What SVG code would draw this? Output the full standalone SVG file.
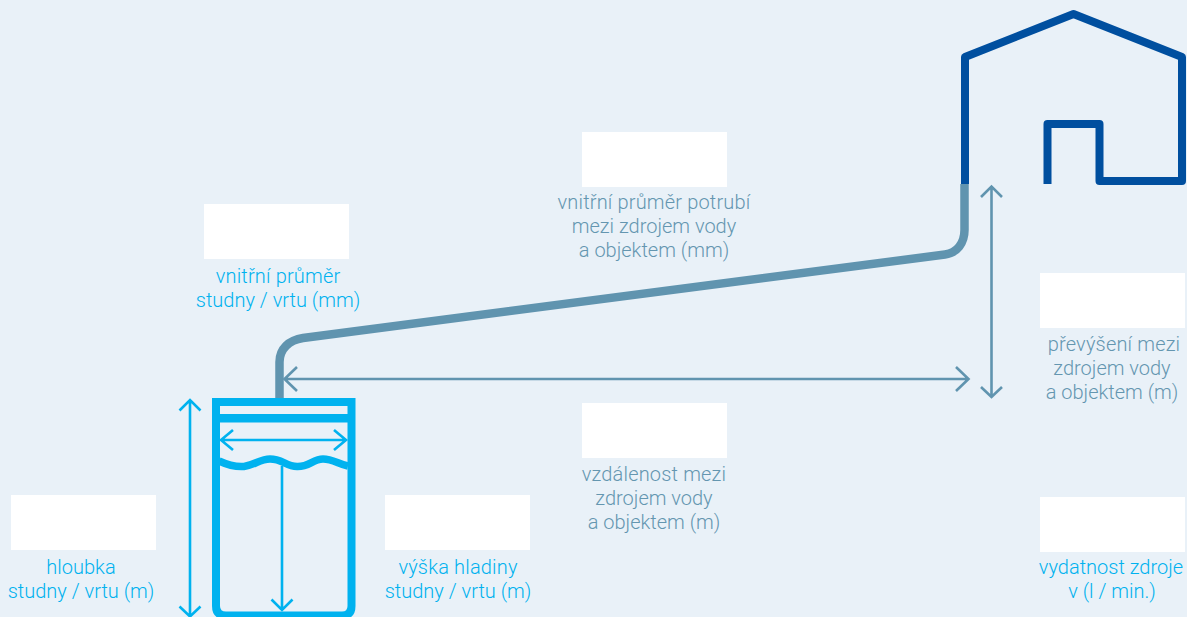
<svg xmlns="http://www.w3.org/2000/svg" width="1187" height="617" viewBox="0 0 1187 617">
<style>
.bg{fill:#e9f1f8}
.box{fill:#fff}
text{font-family:Roboto,"Liberation Sans",sans-serif;font-weight:300;font-size:20px;text-anchor:middle}
.c{fill:#00b2ef}
.g{fill:#6496b0}
.w{letter-spacing:.17px}
.sc{fill:none;stroke:#00b2ef}
.sg{fill:none;stroke:#6094af}
.sh{fill:none;stroke:#004f9f;stroke-width:8;stroke-linejoin:round}
.a{stroke-width:2.6}
</style>
<rect class="bg" width="1187" height="617"/>
<g id="connectors">
<path class="sg" stroke-width="8.500" d="M279.500 398V362C279.500 349 289 340 303 338L945 254.500C957 253 964.500 243 964.500 230V184"/>
<path class="sg a" d="M285 379H968M297 367L284.500 379L297 391M956 367L968.500 379L956 391"/>
<path class="sg a" d="M991.500 187V396M981 197L991.500 186.500L1002 197M981 387L991.500 397L1002 387"/>
<path class="sc a" d="M190 400V616M179.500 410.500L190 400L200.500 410.500M179.500 606.500L190 616.500L200.500 606.500"/>
<path class="sc a" d="M221 440H345M233 430L221 440L233 450M334 430L346 440L334 450"/>
<path class="sc a" d="M282 466V610M271.500 599.500L282 610L292.500 599.500"/>
</g>
<g id="house">
<path class="sh" d="M965 184V57L1073.500 14L1182 57V181H1099.500V124H1047.500V184"/>
</g>
<g id="well">
<path class="sc" stroke-width="8" stroke-linejoin="miter" d="M216 402H351.500V606Q351.500 615.500 342 615.500H226Q216 615.500 216 606Z"/>
<path class="sc" stroke-width="8.600" d="M212 418.300H355"/>
<path class="sc" stroke-width="7.500" d="M219 461C230 466 238 467 244 466.500C255 465 260 459 270 459C282 459 286 466 297 466.500C309 467 313 459 323 459C333 459 338 464 348 466"/>
</g>
<g id="n-prumer-studny">
<rect class="box" x="204" y="204" width="145" height="55"/>
<text class="c w" x="278" y="283">vnitřní průměr</text>
<text class="c" x="278" y="307">studny / vrtu (mm)</text>
</g>
<g id="n-prumer-potrubi">
<rect class="box" x="582" y="132" width="145" height="55"/>
<text class="g w" x="654" y="209">vnitřní průměr potrubí</text>
<text class="g" x="654" y="233">mezi zdrojem vody</text>
<text class="g" x="654" y="257">a objektem (mm)</text>
</g>
<g id="n-prevyseni">
<rect class="box" x="1040" y="273" width="145" height="55"/>
<text class="g w" x="1114" y="351">převýšení mezi</text>
<text class="g" x="1112" y="375">zdrojem vody</text>
<text class="g" x="1112" y="399">a objektem (m)</text>
</g>
<g id="n-vzdalenost">
<rect class="box" x="582" y="403" width="145" height="55"/>
<text class="g w" x="654" y="481">vzdálenost mezi</text>
<text class="g" x="654" y="505">zdrojem vody</text>
<text class="g" x="654" y="529">a objektem (m)</text>
</g>
<g id="n-hloubka">
<rect class="box" x="11" y="495" width="145" height="55"/>
<text class="c" x="81" y="574">hloubka</text>
<text class="c" x="81" y="598">studny / vrtu (m)</text>
</g>
<g id="n-vyska">
<rect class="box" x="385" y="495" width="145" height="55"/>
<text class="c w" x="458" y="574">výška hladiny</text>
<text class="c" x="458" y="598">studny / vrtu (m)</text>
</g>
<g id="n-vydatnost">
<rect class="box" x="1040" y="497" width="145" height="55"/>
<text class="c" x="1111" y="574">vydatnost zdroje</text>
<text class="c" x="1112" y="598">v (l / min.)</text>
</g>
</svg>
